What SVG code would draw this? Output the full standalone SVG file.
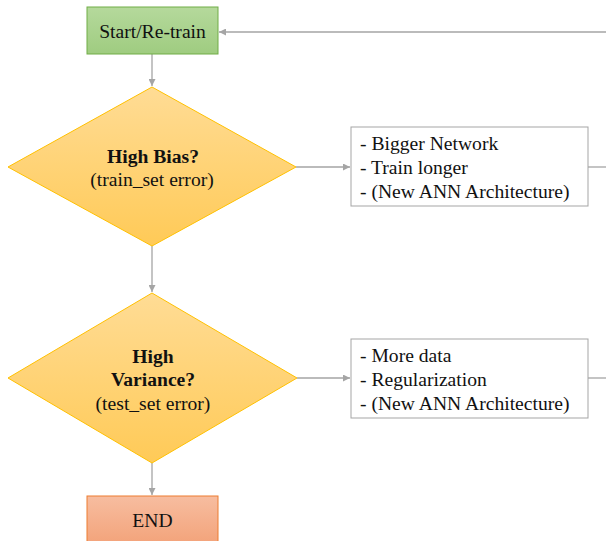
<svg xmlns="http://www.w3.org/2000/svg" width="606" height="541" viewBox="0 0 606 541" font-family="'Liberation Serif', 'Times New Roman', Times, serif">
<defs>
<linearGradient id="gGreen" x1="0" y1="0" x2="0" y2="1"><stop offset="0" stop-color="#b5d99c"/><stop offset="1" stop-color="#9fcc80"/></linearGradient>
<linearGradient id="gYellow" x1="0" y1="0" x2="0" y2="1"><stop offset="0" stop-color="#ffdc95"/><stop offset="1" stop-color="#ffca57"/></linearGradient>
<linearGradient id="gOrange" x1="0" y1="0" x2="0" y2="1"><stop offset="0" stop-color="#f7bda0"/><stop offset="1" stop-color="#f3a37a"/></linearGradient>
<marker id="arr" viewBox="0 0 10 10" refX="10" refY="5" markerWidth="7" markerHeight="7" orient="auto" markerUnits="userSpaceOnUse"><path d="M0,0 L10,5 L0,10 z" fill="#a5a5a5"/></marker>
</defs>
<style>
text{font-size:19.6px;fill:#111}
.c{text-anchor:middle}
.b{font-weight:bold}
.con{stroke:#a5a5a5;stroke-width:1.3;fill:none}
</style>
<rect width="606" height="541" fill="#fff"/>
<g id="connectors">
<path class="con" d="M152,54 V86" marker-end="url(#arr)"/>
<path class="con" d="M152,246 V292" marker-end="url(#arr)"/>
<path class="con" d="M152,463 V495" marker-end="url(#arr)"/>
<path class="con" d="M296,167 H350" marker-end="url(#arr)"/>
<path class="con" d="M297,378 H350" marker-end="url(#arr)"/>
<path class="con" d="M588,167 H606"/>
<path class="con" d="M588,378 H606"/>
<path class="con" d="M606,32 H219" marker-end="url(#arr)"/>
</g>
<g id="start">
<rect x="87" y="7" width="131" height="47" fill="url(#gGreen)" stroke="#70ad47" stroke-width="1"/>
<text class="c" x="152.5" y="37.5">Start/Re-train</text>
</g>
<g id="bias">
<polygon points="152,87 296,167 152,246 8,167" fill="url(#gYellow)" stroke="#ffc000" stroke-width="1"/>
<text class="c b" x="153" y="163">High Bias?</text>
<text class="c" x="152" y="186">(train_set error)</text>
</g>
<g id="biasfix">
<rect x="351" y="127" width="237" height="79" fill="#fff" stroke="#a5a5a5" stroke-width="1"/>
<text x="360" y="150">- Bigger Network</text>
<text x="360" y="174">- Train longer</text>
<text x="360" y="198">- (New ANN Architecture)</text>
</g>
<g id="variance">
<polygon points="152,293 297,378 152,463 8,378" fill="url(#gYellow)" stroke="#ffc000" stroke-width="1"/>
<text class="c b" x="153" y="363">High</text>
<text class="c b" x="153" y="386">Variance?</text>
<text class="c" x="153" y="410">(test_set error)</text>
</g>
<g id="varfix">
<rect x="351" y="339" width="237" height="79" fill="#fff" stroke="#a5a5a5" stroke-width="1"/>
<text x="360" y="362">- More data</text>
<text x="360" y="386">- Regularization</text>
<text x="360" y="410">- (New ANN Architecture)</text>
</g>
<g id="end">
<rect x="87" y="496" width="131" height="48" fill="url(#gOrange)" stroke="#ed7d31" stroke-width="1"/>
<text class="c" x="152.5" y="527">END</text>
</g>
</svg>
